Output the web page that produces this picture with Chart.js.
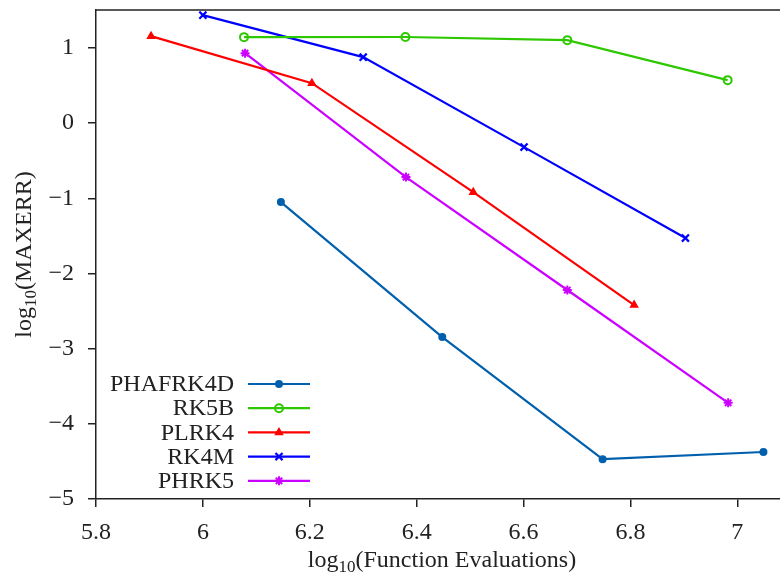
<!DOCTYPE html>
<html>
<head>
<meta charset="utf-8">
<script src="https://cdn.jsdelivr.net/npm/chart.js@4.4.1/dist/chart.umd.min.js"></script>
<style>
  html, body { margin: 0; padding: 0; background: #fff; overflow: hidden; }
  #wrap { width: 780px; height: 579px; }
</style>
</head>
<body>
<div id="wrap"><canvas id="chart"></canvas></div>
<script>
// data (log10 function evaluations vs log10 max error)
const seriesNames = ['PHAFRK4D', 'RK5B', 'PLRK4', 'RK4M', 'PHRK5'];

const phafrk4dX = [6.146, 6.448, 6.748, 7.049];
const phafrk4dY = [-1.05, -2.846, -4.47, -4.375];

const rk5bX = [6.077, 6.379, 6.682, 6.982];
const rk5bY = [1.144, 1.146, 1.104, 0.572];

const plrk4X = [5.903, 6.204, 6.506, 6.807];
const plrk4Y = [1.157, 0.532, -0.918, -2.42];

const rk4mX = [6.0, 6.3, 6.601, 6.903];
const rk4mY = [1.436, 0.878, -0.319, -1.529];

const phrk5X = [6.079, 6.38, 6.682, 6.983];
const phrk5Y = [0.931, -0.718, -2.22, -3.72];

const xTicks = [5.8, 6, 6.2, 6.4, 6.6, 6.8, 7];
const yTicks = [-5, -4, -3, -2, -1, 0, 1];

const FONT = '"Liberation Serif", "DejaVu Serif", serif';
const FSIZE = 24;
const INK = '#222';

function pts(xs, ys) {
    return xs.map((x, i) => ({ x: x, y: ys[i] }));
}

function fmtTick(v) {
    return String(v).replace('-', '\u2212');
}

const styles = [
    { color: '#0060ad', point: 'circle', radius: 3, fill: true, width: 2 },
    { color: '#2ec800', point: 'circle', radius: 4, fill: false, width: 2 },
    { color: '#ff0000', point: 'triangle', radius: 3.5, fill: true, width: 2 },
    { color: '#0000ff', point: 'crossRot', radius: 5, fill: false, width: 2.2 },
    { color: '#cc00ff', point: 'star', radius: 4.5, fill: false, width: 2 }
];

const seriesData = [
    pts(phafrk4dX, phafrk4dY),
    pts(rk5bX, rk5bY),
    pts(plrk4X, plrk4Y),
    pts(rk4mX, rk4mY),
    pts(phrk5X, phrk5Y)
];

const datasets = seriesNames.map((name, i) => {
    const s = styles[i];
    return {
        label: name,
        data: seriesData[i],
        borderColor: s.color,
        backgroundColor: s.fill ? s.color : '#fff',
        borderWidth: 2.2,
        pointStyle: s.point,
        pointRadius: s.radius,
        pointBorderWidth: s.width,
        pointBorderColor: s.color,
        pointBackgroundColor: s.fill ? s.color : 'rgba(255,255,255,0)',
        tension: 0,
        clip: false
    };
});

// text with a "10" subscript after "log"
function drawLogLabel(ctx, rest, size) {
    const subSize = Math.round(size * 0.72);
    ctx.font = size + 'px ' + FONT;
    const w1 = ctx.measureText('log').width;
    const w3 = ctx.measureText(rest).width;
    ctx.font = subSize + 'px ' + FONT;
    const w2 = ctx.measureText('10').width;
    const total = w1 + w2 + w3;
    let x = -total / 2;
    ctx.textAlign = 'left';
    ctx.textBaseline = 'alphabetic';
    ctx.font = size + 'px ' + FONT;
    ctx.fillText('log', x, 0);
    x += w1;
    ctx.font = subSize + 'px ' + FONT;
    ctx.fillText('10', x, size * 0.2);
    x += w2;
    ctx.font = size + 'px ' + FONT;
    ctx.fillText(rest, x, 0);
}

const decorPlugin = {
    id: 'decor',
    afterDraw(chart) {
        const ctx = chart.ctx;
        const a = chart.chartArea;
        ctx.save();

        // top frame line
        ctx.strokeStyle = INK;
        ctx.lineWidth = 1.5;
        ctx.beginPath();
        ctx.moveTo(a.left, a.top);
        ctx.lineTo(a.right, a.top);
        ctx.stroke();

        // axis titles
        ctx.fillStyle = INK;
        ctx.save();
        ctx.translate(442, 567);
        drawLogLabel(ctx, '(Function Evaluations)', FSIZE);
        ctx.restore();

        ctx.save();
        ctx.translate(31, (a.top + a.bottom) / 2);
        ctx.rotate(-Math.PI / 2);
        drawLogLabel(ctx, '(MAXERR)', FSIZE);
        ctx.restore();

        // legend: label on the left, sample line with marker on the right
        ctx.font = FSIZE + 'px ' + FONT;
        ctx.textAlign = 'right';
        ctx.textBaseline = 'middle';
        chart.data.datasets.forEach((ds, i) => {
            const y = 384 + i * 24.2;
            ctx.fillStyle = INK;
            ctx.fillText(ds.label, 234, y + 1);
            ctx.strokeStyle = ds.borderColor;
            ctx.lineWidth = 2.2;
            ctx.beginPath();
            ctx.moveTo(248, y);
            ctx.lineTo(310, y);
            ctx.stroke();
            ctx.fillStyle = ds.pointBackgroundColor;
            ctx.lineWidth = ds.pointBorderWidth;
            Chart.helpers.drawPoint(ctx, {
                pointStyle: ds.pointStyle,
                radius: ds.pointRadius,
                borderWidth: ds.pointBorderWidth,
                rotation: 0
            }, 279, y);
        });
        ctx.restore();
    }
};

new Chart(document.getElementById('chart'), {
    type: 'scatter',
    data: { datasets: datasets },
    options: {
        responsive: true,
        maintainAspectRatio: false,
        animation: false,
        devicePixelRatio: 1,
        showLine: true,
        layout: { autoPadding: false, padding: { left: 0, top: 10, right: 0, bottom: 0 } },
        plugins: {
            legend: { display: false },
            tooltip: { enabled: false }
        },
        scales: {
            x: {
                type: 'linear',
                min: 5.8,
                max: 7.08,
                afterBuildTicks: s => { s.ticks = xTicks.map(v => ({ value: v })); },
                afterFit: s => { s.height = 80; s.paddingRight = 0; s.paddingLeft = 0; },
                ticks: {
                    color: INK,
                    font: { family: FONT, size: FSIZE },
                    padding: 11,
                    maxRotation: 0,
                    callback: v => fmtTick(v)
                },
                grid: { drawOnChartArea: false, drawTicks: true, tickLength: 8, color: INK, lineWidth: 1.5 },
                border: { display: true, color: INK, width: 1.5 }
            },
            y: {
                type: 'linear',
                min: -5,
                max: 1.505,
                afterBuildTicks: s => { s.ticks = yTicks.map(v => ({ value: v })); },
                afterFit: s => { s.width = 96; s.paddingTop = 0; s.paddingBottom = 0; },
                ticks: {
                    color: INK,
                    font: { family: FONT, size: FSIZE },
                    padding: 14,
                    callback: v => fmtTick(v)
                },
                grid: { drawOnChartArea: false, drawTicks: true, tickLength: 8, color: INK, lineWidth: 1.5 },
                border: { display: true, color: INK, width: 1.5 }
            }
        }
    },
    plugins: [decorPlugin]
});
</script>
</body>
</html>
